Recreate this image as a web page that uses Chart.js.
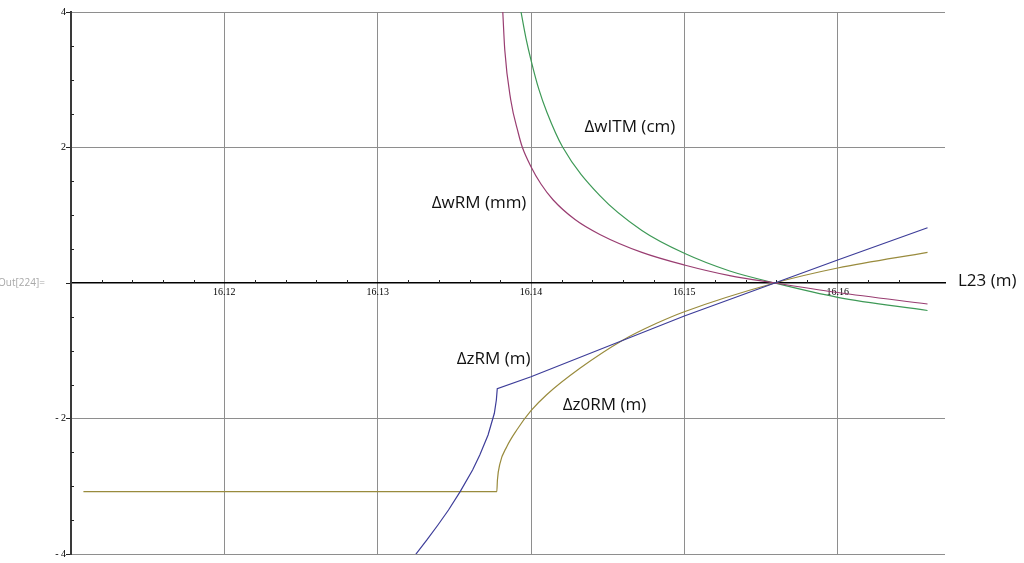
<!DOCTYPE html>
<html>
<head>
<meta charset="utf-8">
<title>L23 scan</title>
<script src="https://cdn.jsdelivr.net/npm/chart.js@4.4.1/dist/chart.umd.min.js"></script>
<style>
  html, body { margin: 0; padding: 0; background: #ffffff; overflow: hidden; }
  canvas { display: block; }
</style>
</head>
<body>
<canvas id="plot" width="1024" height="563"></canvas>
<script>
// L23 (m) samples and the response of each quantity
const zRM_L = [16.13245, 16.13321, 16.13393, 16.13462, 16.13538, 16.13619, 16.13666, 16.13720, 16.13761, 16.13774, 16.13780, 16.14000, 16.15000, 16.15590, 16.16000, 16.16586];
const zRM   = [-4.015, -3.793, -3.572, -3.351, -3.080, -2.760, -2.539, -2.244, -1.923, -1.727, -1.560, -1.383, -0.487, 0.000, 0.339, 0.816];

const z0RM_L = [16.11081, 16.13777, 16.13781, 16.13798, 16.13842, 16.13907, 16.14000, 16.14102, 16.14319, 16.14601, 16.14819, 16.15000, 16.15590, 16.16000, 16.16586];
const z0RM   = [-3.080, -3.080, -2.908, -2.661, -2.416, -2.170, -1.885, -1.649, -1.259, -0.841, -0.595, -0.424, 0.000, 0.221, 0.453];

const wRM_L = [16.13816, 16.13829, 16.13868, 16.13917, 16.13943, 16.14000, 16.14065, 16.14145, 16.14287, 16.14449, 16.14723, 16.15000, 16.15296, 16.15590, 16.16000, 16.16586];
const wRM   = [4.000, 3.439, 2.701, 2.214, 2.007, 1.717, 1.461, 1.225, 0.937, 0.717, 0.452, 0.266, 0.109, 0.000, -0.140, -0.310];

const wITM_L = [16.13935, 16.13967, 16.14000, 16.14051, 16.14103, 16.14206, 16.14449, 16.14723, 16.15000, 16.15296, 16.15590, 16.16000, 16.16586];
const wITM   = [4.000, 3.616, 3.291, 2.861, 2.524, 2.007, 1.289, 0.775, 0.438, 0.177, 0.000, -0.211, -0.406];

// axis ticks
const xMajorTicks = [16.12, 16.13, 16.14, 16.15, 16.16];
const yMajorTicks = [-4, -2, 2, 4];

// curve captions (text centre, in data units)
const captions = [
  { text: '\u0394wITM (cm)', x: 16.14645, y: 2.303 },
  { text: '\u0394wRM (mm)',  x: 16.13661, y: 1.181 },
  { text: '\u0394zRM (m)',   x: 16.13756, y: -1.122 },
  { text: '\u0394z0RM (m)',  x: 16.14479, y: -1.801 }
];

const GRID = '#8e8e8e';
const near = (a, b) => Math.abs(a - b) < 1e-7;
const isMajorX = v => xMajorTicks.some(m => near(m, v));
const isMajorY = v => yMajorTicks.some(m => near(m, v));
const toPoints = (xs, ys) => xs.map((x, i) => ({ x: x, y: ys[i] }));

function curve(label, xs, ys, color, smooth) {
  return {
    label: label,
    data: toPoints(xs, ys),
    showLine: true,
    borderColor: color,
    backgroundColor: color,
    borderWidth: 1.2,
    pointRadius: 0,
    pointHoverRadius: 0,
    tension: 0,
    cubicInterpolationMode: smooth ? 'monotone' : 'default',
    fill: false
  };
}

// small tick marks on the inner side of both axes
const minorTicks = {
  id: 'minorTicks',
  beforeDatasetsDraw(chart) {
    const { ctx, scales: { x, y } } = chart;
    const y0 = y.getPixelForValue(0);
    const x0 = x.getPixelForValue(x.min);
    ctx.save();
    ctx.strokeStyle = '#222';
    ctx.lineWidth = 1;
    ctx.beginPath();
    x.ticks.forEach(t => {
      if (isMajorX(t.value) || near(t.value, x.min) || t.value > 16.1665) return;
      const px = Math.round(x.getPixelForValue(t.value)) + 0.5;
      ctx.moveTo(px, y0);
      ctx.lineTo(px, y0 - 3);
    });
    y.ticks.forEach(t => {
      if (isMajorY(t.value) || near(t.value, 0)) return;
      const py = Math.round(y.getPixelForValue(t.value)) + 0.5;
      ctx.moveTo(x0, py);
      ctx.lineTo(x0 + 3, py);
    });
    ctx.stroke();
    ctx.restore();
  }
};

// captions, axis name and the cell tag
const textLayer = {
  id: 'textLayer',
  afterDraw(chart) {
    const { ctx, chartArea, scales: { x, y } } = chart;
    ctx.save();
    ctx.fillStyle = '#111';
    ctx.font = '17px "Open Sans"';
    ctx.textAlign = 'center';
    ctx.textBaseline = 'middle';
    captions.forEach(c => {
      ctx.fillText(c.text, x.getPixelForValue(c.x), y.getPixelForValue(c.y));
    });
    const y0 = y.getPixelForValue(0);
    ctx.textAlign = 'left';
    ctx.fillText('L23 (m)', chartArea.right + 13, y0 - 2);
    ctx.fillStyle = '#a8a8a8';
    ctx.font = '10px "Open Sans"';
    ctx.fillText('Out[224]=', -2, y0);
    ctx.restore();
  }
};

new Chart(document.getElementById('plot'), {
  type: 'scatter',
  data: {
    datasets: [
      curve('\u0394zRM (m)',   zRM_L,  zRM,  'rgb(61,61,153)', false),
      curve('\u0394wRM (mm)',  wRM_L,  wRM,  'rgb(153,61,113)', true),
      curve('\u0394z0RM (m)',  z0RM_L, z0RM, 'rgb(153,139,61)', true),
      curve('\u0394wITM (cm)', wITM_L, wITM, 'rgb(61,153,86)', true)
    ]
  },
  options: {
    responsive: false,
    animation: false,
    events: [],
    layout: { padding: { left: 71, top: 12, right: 79, bottom: 8 } },
    plugins: { legend: { display: false }, tooltip: { enabled: false }, title: { display: false } },
    scales: {
      x: {
        type: 'linear',
        min: 16.11,
        max: 16.167,
        position: { y: 0 },
        ticks: {
          stepSize: 0.002,
          maxTicksLimit: 100,
          autoSkip: false,
          maxRotation: 0,
          padding: 3,
          color: '#000',
          font: { family: '"Liberation Serif", "Times New Roman", serif', size: 10 },
          callback: v => isMajorX(v) ? v.toFixed(2) : ''
        },
        grid: {
          drawTicks: false,
          lineWidth: 1,
          color: c => (c.tick && isMajorX(c.tick.value)) ? GRID : 'rgba(0,0,0,0)'
        },
        border: { display: true, color: '#000', width: 1.5 }
      },
      y: {
        type: 'linear',
        min: -4,
        max: 4,
        position: { x: 16.11 },
        ticks: {
          stepSize: 0.5,
          maxTicksLimit: 100,
          autoSkip: false,
          color: '#000',
          font: { family: '"Liberation Serif", "Times New Roman", serif', size: 10 },
          callback: v => isMajorY(v) ? ((v < 0 ? '- ' + Math.abs(v) : String(v)) + '  ') : ''
        },
        grid: {
          drawTicks: true,
          tickLength: 4,
          lineWidth: 1,
          color: c => (c.tick && isMajorY(c.tick.value)) ? GRID : 'rgba(0,0,0,0)',
          tickColor: c => (c.tick && (isMajorY(c.tick.value) || near(c.tick.value, 0))) ? '#222' : 'rgba(0,0,0,0)'
        },
        border: { display: true, color: '#3a3a3a', width: 2 }
      }
    }
  },
  plugins: [minorTicks, textLayer]
});
</script>
</body>
</html>
